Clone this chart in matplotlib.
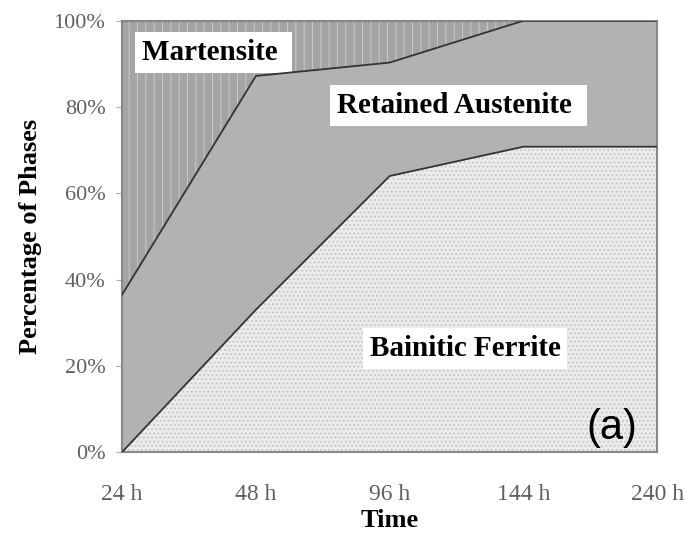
import matplotlib.pyplot as plt
import numpy as np

# data
times = ["24 h", "48 h", "96 h", "144 h", "240 h"]
bainitic_ferrite = [0, 33, 64, 70.8, 70.8]
retained_austenite = [36.5, 54.2, 26.3, 29.2, 29.2]
martensite = [63.5, 12.8, 9.7, 0, 0]

plt.rcParams['hatch.linewidth'] = 0.7
serif = ['Liberation Serif', 'DejaVu Serif']

fig = plt.figure(figsize=(6.86, 5.46), dpi=100)
ax = fig.add_axes([0.178, 0.172, 0.780, 0.790])

x = np.arange(len(times))
bf = np.array(bainitic_ferrite)
ra = bf + np.array(retained_austenite)
ms = ra + np.array(martensite)

ax.fill_between(x, 0, bf, facecolor='#ebebeb', edgecolor='#c0c0c0', hatch='....', linewidth=0)
ax.fill_between(x, bf, ra, facecolor='#b2b2b2', linewidth=0)
ax.fill_between(x, ra, ms, facecolor='#a4a4a4', edgecolor='#cacaca', hatch='||', linewidth=0)
ax.plot(x, bf, color='#333333', lw=1.3, zorder=4)
ax.plot(x, ra, color='#333333', lw=1.3, zorder=4)

ax.set_xlim(0, len(times) - 1)
ax.set_ylim(0, 100)
ax.set_xticks(x)
ax.set_xticklabels(times)
ax.set_yticks(range(0, 101, 20))
ax.set_yticklabels([f"{v}%" for v in range(0, 101, 20)])
for lab in ax.get_xticklabels() + ax.get_yticklabels():
    lab.set_family(serif)
    lab.set_fontsize(16)
    lab.set_color('#606060')
for lab in ax.get_xticklabels():
    lab.set_fontsize(17)
ax.tick_params(axis='x', length=0, pad=23)
ax.tick_params(axis='y', length=4, color='#aaaaaa', pad=8)
for sp in ax.spines.values():
    sp.set_color('#888888')
    sp.set_linewidth(1.5)

ax.set_xlabel("Time", family=serif, fontsize=19, fontweight='bold', labelpad=3)
ax.set_ylabel("Percentage of Phases", family=serif, fontsize=19, fontweight='bold', labelpad=8)

box = dict(facecolor='white', edgecolor='none', pad=5)
ax.text(0.15, 92.6, "Martensite ", family=serif, fontsize=21, fontweight='bold', bbox=box, va='center', zorder=3)
ax.text(1.61, 80.3, "Retained Austenite ", family=serif, fontsize=21, fontweight='bold', bbox=box, va='center', zorder=3)
ax.text(1.85, 24.1, "Bainitic Ferrite", family=serif, fontsize=21, fontweight='bold', bbox=box, va='center', zorder=3)
ax.text(3.66, 5.6, "(a)", family=['Liberation Sans', 'DejaVu Sans'], fontsize=30, va='center', ha='center')

fig.savefig("out.png", dpi=100)
